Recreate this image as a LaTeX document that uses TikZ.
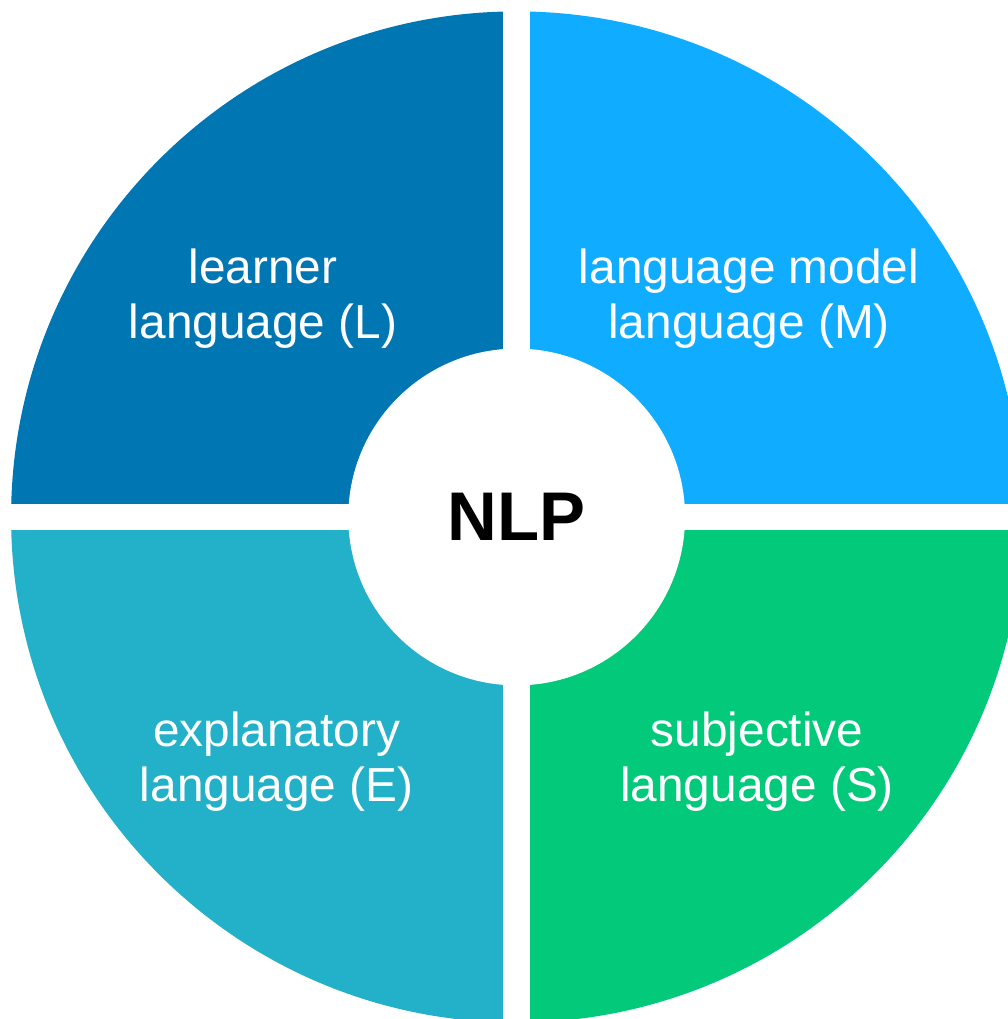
\documentclass[tikz,border=0pt]{standalone}
\usepackage{fontspec}
\setmainfont{Liberation Sans}
\usetikzlibrary{positioning}
\definecolor{learnerblue}{RGB}{0,118,178}
\definecolor{modelblue}{RGB}{16,172,255}
\definecolor{explteal}{RGB}{35,176,201}
\definecolor{subjgreen}{RGB}{3,201,122}
\tikzset{
    quarter/.style={fill=#1, draw=none},
    quadtext/.style={text=white, align=center, inner sep=0pt, font=\fontsize{34}{39.5}\selectfont},
    hub/.style={circle, fill=white, draw=none, inner sep=0pt, minimum size=8.42cm, font=\bfseries\fontsize{49}{56}\selectfont}
}
\begin{document}
\begin{tikzpicture}
    \def \R {12.64}
    \def \g {0.33}
    \useasboundingbox (-12.917,-12.55) rectangle (12.283,12.925);
    % four quarters of the disc
    \fill[quarter=modelblue] (0,0) -- (0:\R) arc (0:90:\R) -- cycle;
    \fill[quarter=learnerblue] (0,0) -- (90:\R) arc (90:180:\R) -- cycle;
    \fill[quarter=explteal] (0,0) -- (180:\R) arc (180:270:\R) -- cycle;
    \fill[quarter=subjgreen] (0,0) -- (270:\R) arc (270:360:\R) -- cycle;
    % white gaps between the quarters
    \fill[white] (-\R-0.5,-\g) rectangle (\R+0.5,\g);
    \fill[white] (-\g,-\R-0.5) rectangle (\g,\R+0.5);
    \node[hub] (nlp) at (0,0) {NLP};
    \node[quadtext] (lrn) at (-6.34,5.46) {learner\\language (L)};
    \node[quadtext] (mdl) at (5.81,5.46) {language model\\language (M)};
    \node[quadtext] (expl) at (-6.0,-6.12) {explanatory\\language (E)};
    \node[quadtext] (subj) at (6.01,-6.12) {subjective\\language (S)};
\end{tikzpicture}
\end{document}
